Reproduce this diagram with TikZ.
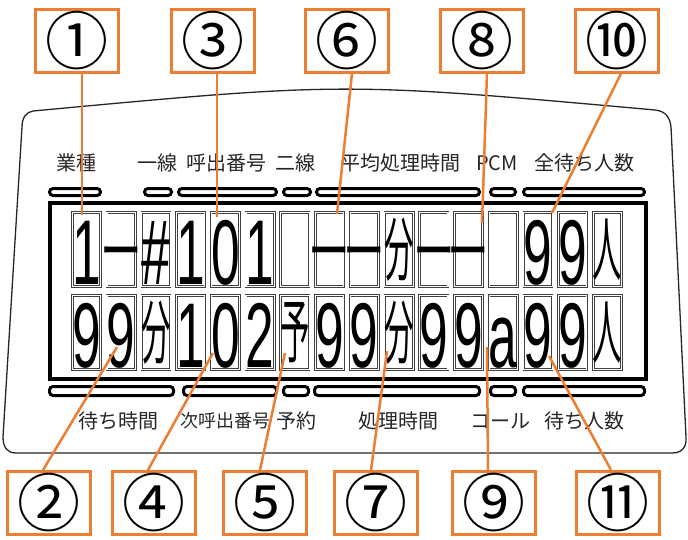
\documentclass[tikz,border=0pt]{standalone}
\usepackage{graphicx}
\usepackage{fontspec}
\setmainfont{Liberation Sans}
\newfontfamily\cjk{Noto Sans CJK JP}
\newfontfamily\digf{Liberation Sans}
\definecolor{borange}{RGB}{237,125,49}
\newcommand\dg[1]{\scalebox{0.56}[1]{\digf\fontsize{92}{92}\selectfont #1}}
\newcommand\kj[1]{\scalebox{1.05}[2.5]{\cjk\fontsize{28}{28}\selectfont #1}}
\newcommand\dsh{\scalebox{1.04}[1.6]{\cjk\fontsize{40}{40}\selectfont ー}}
\tikzset{
  obox/.style={draw=borange, line width=3pt, fill=white, minimum width=83pt, minimum height=63pt, inner sep=0pt, font=\cjk\fontsize{63}{63}\selectfont},
  lead/.style={draw=borange, line width=2.5pt},
  cellbox/.style={draw=black!75, double=white, double distance=1.1pt, line width=0.7pt},
  segbar/.style={draw=black, line width=3pt, rounded corners=3.5pt},
  lbl/.style={font=\cjk\fontsize{20}{20}\selectfont, inner sep=0pt, text=black!85},
  dglyph/.style={anchor=base, inner sep=0pt},
  kglyph/.style={anchor=center, inner sep=0pt},
  hglyph/.style={anchor=base, inner sep=0pt},
  outline/.style={draw=black!85, line width=1.3pt}
}
\begin{document}
\begin{tikzpicture}[x=1pt,y=-1pt]
\useasboundingbox (0,0) rectangle (688,539);
% device outline
\draw[outline] (33,111) .. controls (344,82) .. (655,110)
  .. controls (666,111) and (670,118) .. (671,127) -- (686,437)
  .. controls (687,448) and (681,453) .. (672,453) -- (16,453)
  .. controls (7,453) and (3,447) .. (3,437) -- (22,127)
  .. controls (22,118) and (26,112) .. (33,111) -- cycle;
% labels top
\node[lbl] (l1) at (76,163) {業種};
\node[lbl] (l2) at (157,163) {一線};
\node[lbl] (l3) at (226,163) {呼出番号};
\node[lbl] (l4) at (295,163) {二線};
\node[lbl] (l5) at (400,163) {平均処理時間};
\node[lbl] (l6) at (497,163) {PCM};
\node[lbl] (l7) at (584,163) {全待ち人数};
% labels bottom
\node[lbl] (m1) at (118,421) {待ち時間};
\node[lbl, font=\cjk\fontsize{18}{18}\selectfont] (m2) at (225,421) {次呼出番号};
\node[lbl] (m3) at (296,421) {予約};
\node[lbl] (m4) at (398,421) {処理時間};
\node[lbl] (m5) at (500,421) {コール};
\node[lbl] (m6) at (584,421) {待ち人数};
% segment bars
\foreach \a/\b in {49.5/100.5,144.5/171.5,178.5/276.5,283.5/310.5,316.5/479.5,490.5/515.5,523.5/644.5}
  \draw[segbar] (\a,188.5) rectangle (\b,195.5);
\foreach \a/\b in {49.5/173.5,183.5/276.5,283.5/308.5,314.5/479.5,490.5/515.5,523.5/644.5}
  \draw[segbar] (\a,386.5) rectangle (\b,395.5);
% display frame
\draw[line width=4pt] (50,202.5) rectangle (646,379);
% cells
\foreach \i in {0,...,15} {
  \draw[cellbox] (72.3+34.73*\i,212.3) rectangle (100.7+34.73*\i,286.7);
  \draw[cellbox] (72.3+34.73*\i,295.3) rectangle (100.7+34.73*\i,369.7);
}
% row 1 glyphs
\node[dglyph] (r1c0) at (86.5,284) {\dg{1}};
\node[hglyph] (r1c1) at (121.2,274.5) {\dsh};
\node[dglyph] (r1c2) at (156.0,284) {\dg{\#}};
\node[dglyph] (r1c3) at (190.7,284) {\dg{1}};
\node[dglyph] (r1c4) at (225.4,284) {\dg{0}};
\node[dglyph] (r1c5) at (260.2,284) {\dg{1}};
\node[hglyph] (r1c7) at (329.6,274.5) {\dsh};
\node[hglyph] (r1c8) at (364.3,274.5) {\dsh};
\node[kglyph] (r1c9) at (399.1,249.5) {\kj{分}};
\node[hglyph] (r1c10) at (433.8,274.5) {\dsh};
\node[hglyph] (r1c11) at (468.5,274.5) {\dsh};
\node[dglyph] (r1c13) at (538.0,284) {\dg{9}};
\node[dglyph] (r1c14) at (572.7,284) {\dg{9}};
\node[kglyph] (r1c15) at (607.5,249.5) {\kj{人}};
% row 2 glyphs
\node[dglyph] (r2c0) at (86.5,367) {\dg{9}};
\node[dglyph] (r2c1) at (121.2,367) {\dg{9}};
\node[kglyph] (r2c2) at (156.0,332.5) {\kj{分}};
\node[dglyph] (r2c3) at (190.7,367) {\dg{1}};
\node[dglyph] (r2c4) at (225.4,367) {\dg{0}};
\node[dglyph] (r2c5) at (260.2,367) {\dg{2}};
\node[kglyph] (r2c6) at (294.9,332.5) {\kj{予}};
\node[dglyph] (r2c7) at (329.6,367) {\dg{9}};
\node[dglyph] (r2c8) at (364.3,367) {\dg{9}};
\node[kglyph] (r2c9) at (399.1,332.5) {\kj{分}};
\node[dglyph] (r2c10) at (433.8,367) {\dg{9}};
\node[dglyph] (r2c11) at (468.5,367) {\dg{9}};
\node[dglyph] (r2c12) at (503.3,367) {\dg{a}};
\node[dglyph] (r2c13) at (538.0,367) {\dg{9}};
\node[dglyph] (r2c14) at (572.7,367) {\dg{9}};
\node[kglyph] (r2c15) at (607.5,332.5) {\kj{人}};
% numbered boxes
\node[obox] (b1) at (77,40.5) {①};
\node[obox] (b3) at (212.5,40.5) {③};
\node[obox] (b6) at (347,40.5) {⑥};
\node[obox] (b8) at (482,40.5) {⑧};
\node[obox] (b10) at (616.5,40.5) {⑩};
\node[obox] (b2) at (48.5,503) {②};
\node[obox] (b4) at (153.5,503) {④};
\node[obox] (b5) at (265,503) {⑤};
\node[obox] (b7) at (375.5,503) {⑦};
\node[obox] (b9) at (494,503) {⑨};
\node[obox] (b11) at (618,503) {⑪};
% leader end points
\coordinate (t1) at (82,215);
\coordinate (t3) at (217,217);
\coordinate (t6) at (337,214);
\coordinate (t8) at (482,223);
\coordinate (t10) at (552,213);
\coordinate (e2) at (117,347);
\coordinate (e4) at (213,353);
\coordinate (e5) at (285,353);
\coordinate (e7) at (387,351);
\coordinate (e9) at (487,347);
\coordinate (e11) at (549,356);
% leaders
\draw[lead] ([xshift=5pt]b1.south) -- (t1);
\draw[lead] ([xshift=4.5pt]b3.south) -- (t3);
\draw[lead] ([xshift=5pt]b6.south) -- (t6);
\draw[lead] ([xshift=5pt]b8.south) -- (t8);
\draw[lead] ([xshift=4.5pt]b10.south) -- (t10);
\draw[lead] ([xshift=-5.5pt]b2.north) -- (e2);
\draw[lead] ([xshift=-5.5pt]b4.north) -- (e4);
\draw[lead] ([xshift=-5pt]b5.north) -- (e5);
\draw[lead] ([xshift=-4.5pt]b7.north) -- (e7);
\draw[lead] ([xshift=-6pt]b9.north) -- (e9);
\draw[lead] ([xshift=-7pt]b11.north) -- (e11);
\end{tikzpicture}
\end{document}
